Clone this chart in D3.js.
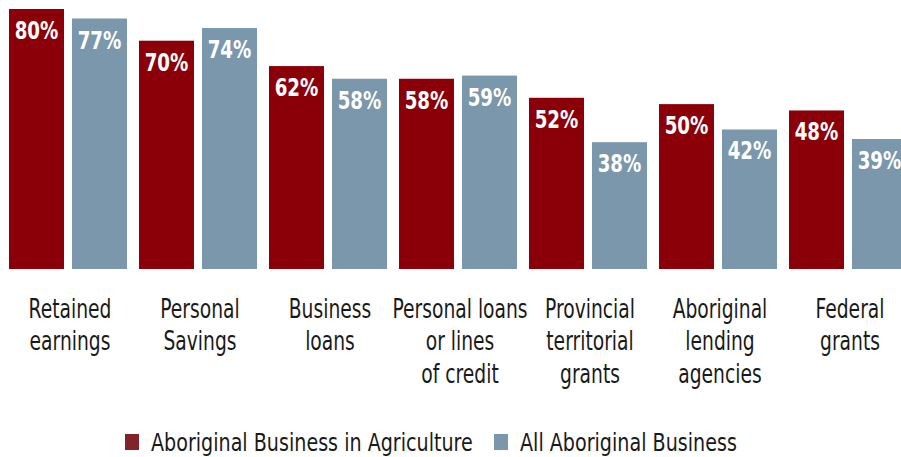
<!DOCTYPE html>
<html>
<head>
<meta charset="utf-8">
<script src="https://cdn.jsdelivr.net/npm/d3@7"></script>
<style>
  html, body { margin: 0; padding: 0; background: #ffffff; }
  svg { display: block; }
  text { font-family: "DejaVu Sans", sans-serif; }
</style>
</head>
<body>
<svg id="chart" width="901" height="457"></svg>
<script>
// Sources of financing, share of businesses using each source
const categories = [
  ["Retained", "earnings"],
  ["Personal", "Savings"],
  ["Business", "loans"],
  ["Personal loans", "or lines", "of credit"],
  ["Provincial", "territorial", "grants"],
  ["Aboriginal", "lending", "agencies"],
  ["Federal", "grants"]
];
const seriesNames = ["Aboriginal Business in Agriculture", "All Aboriginal Business"];
const agriculture = [80, 70, 62, 58, 52, 50, 48];
const allBusiness = [77, 74, 58, 59, 38, 42, 39];
const colors = ["#8B0008", "#7A97AC"];
const legendColors = ["#82232A", "#7A97AC"];

// Horizontal squeeze that gives the narrow, condensed lettering
const VALUE_SQUEEZE = 0.73;
const LABEL_SQUEEZE = 0.72;
const LEGEND_SQUEEZE = 0.765;

const svg = d3.select("#chart");
const keys = categories.map((c, i) => "c" + i);

const x0 = d3.scaleBand()
  .domain(keys)
  .range([9, 907])
  .paddingInner(12 / 130)
  .paddingOuter(0);

const x1 = d3.scaleBand()
  .domain(seriesNames)
  .range([0, x0.bandwidth()])
  .paddingInner(8 / 63)
  .paddingOuter(0);

const y = d3.scaleLinear()
  .domain([-2, 80])
  .range([269, 9]);

const rows = keys.map((k, i) => ({
  key: k,
  label: categories[i],
  values: [
    { series: seriesNames[0], value: agriculture[i], color: colors[0] },
    { series: seriesNames[1], value: allBusiness[i], color: colors[1] }
  ]
}));

const groups = svg.append("g")
  .selectAll("g")
  .data(rows)
  .join("g")
  .attr("transform", d => `translate(${x0(d.key)},0)`);

groups.selectAll("rect")
  .data(d => d.values)
  .join("rect")
  .attr("x", d => x1(d.series))
  .attr("y", d => y(d.value))
  .attr("width", x1.bandwidth())
  .attr("height", d => y.range()[0] - y(d.value))
  .attr("fill", d => d.color);

groups.selectAll("text.value")
  .data(d => d.values)
  .join("text")
  .attr("class", "value")
  .attr("transform", d =>
    `translate(${x1(d.series) + x1.bandwidth() / 2},${y(d.value) + 30}) scale(${VALUE_SQUEEZE},1)`)
  .attr("text-anchor", "middle")
  .attr("fill", "#ffffff")
  .attr("font-weight", "bold")
  .attr("font-size", 25)
  .text(d => d.value + "%");

// Category labels under each group
const catLabels = svg.append("g")
  .selectAll("text")
  .data(rows)
  .join("text")
  .attr("transform", d =>
    `translate(${x0(d.key) + x0.bandwidth() / 2 + 2},318) scale(${LABEL_SQUEEZE},1)`)
  .attr("text-anchor", "middle")
  .attr("fill", "#1a1a1a")
  .attr("font-size", 26);

catLabels.selectAll("tspan")
  .data(d => d.label.map((line, j) => ({ line, j })))
  .join("tspan")
  .attr("x", 0)
  .attr("dy", d => d.j === 0 ? 0 : 32.5)
  .text(d => d.line);

// Legend
const legendX = [125, 494];
const legend = svg.append("g")
  .selectAll("g")
  .data(seriesNames)
  .join("g")
  .attr("transform", (d, i) => `translate(${legendX[i]},0)`);

legend.append("rect")
  .attr("x", 0)
  .attr("y", 434)
  .attr("width", 14)
  .attr("height", 16)
  .attr("fill", (d, i) => legendColors[i]);

legend.append("text")
  .attr("transform", `translate(26,450.5) scale(${LEGEND_SQUEEZE},1)`)
  .attr("fill", "#1a1a1a")
  .attr("font-size", 25)
  .text(d => d);
</script>
</body>
</html>
